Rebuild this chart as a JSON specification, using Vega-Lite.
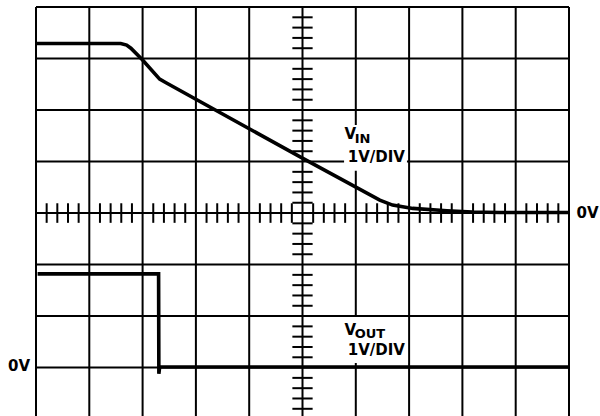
{
  "$schema": "https://vega.github.io/schema/vega-lite/v6.json",
  "width": 533,
  "height": 409,
  "autosize": {"type": "none"},
  "padding": {"left": 36, "top": 7, "right": 31, "bottom": 0},
  "background": "white",
  "config": {"view": {"stroke": null}},
  "datasets": {
    "one": [{}],
    "vgrid": [{"v": 0}, {"v": 1}, {"v": 2}, {"v": 3}, {"v": 4}, {"v": 5}, {"v": 6}, {"v": 7}, {"v": 8}, {"v": 9}, {"v": 10}],
    "hgrid": [{"h": -3}, {"h": -2}, {"h": -1}, {"h": 0}, {"h": 1}, {"h": 2}, {"h": 3}, {"h": 4}],
    "xticks": [
      {"t": 0.2}, {"t": 0.4}, {"t": 0.6}, {"t": 0.8},
      {"t": 1.2}, {"t": 1.4}, {"t": 1.6}, {"t": 1.8},
      {"t": 2.2}, {"t": 2.4}, {"t": 2.6}, {"t": 2.8},
      {"t": 3.2}, {"t": 3.4}, {"t": 3.6}, {"t": 3.8},
      {"t": 4.2}, {"t": 4.4}, {"t": 4.6}, {"t": 4.8},
      {"t": 5.2}, {"t": 5.4}, {"t": 5.6}, {"t": 5.8},
      {"t": 6.2}, {"t": 6.4}, {"t": 6.6}, {"t": 6.8},
      {"t": 7.2}, {"t": 7.4}, {"t": 7.6}, {"t": 7.8},
      {"t": 8.2}, {"t": 8.4}, {"t": 8.6}, {"t": 8.8},
      {"t": 9.2}, {"t": 9.4}, {"t": 9.6}, {"t": 9.8}
    ],
    "yticks": [
      {"t": -3.8}, {"t": -3.6}, {"t": -3.4}, {"t": -3.2},
      {"t": -2.8}, {"t": -2.6}, {"t": -2.4}, {"t": -2.2},
      {"t": -1.8}, {"t": -1.6}, {"t": -1.4}, {"t": -1.2},
      {"t": -0.8}, {"t": -0.6}, {"t": -0.4}, {"t": -0.2},
      {"t": 0.2}, {"t": 0.4}, {"t": 0.6}, {"t": 0.8},
      {"t": 1.2}, {"t": 1.4}, {"t": 1.6}, {"t": 1.8},
      {"t": 2.2}, {"t": 2.4}, {"t": 2.6}, {"t": 2.8},
      {"t": 3.2}, {"t": 3.4}, {"t": 3.6}, {"t": 3.8}
    ],
    "traces": [
      {"s": "VIN", "i": 0, "x": 0, "y": 3.29},
      {"s": "VIN", "i": 1, "x": 1.59, "y": 3.29},
      {"s": "VIN", "i": 2, "x": 1.7, "y": 3.26},
      {"s": "VIN", "i": 3, "x": 1.78, "y": 3.2},
      {"s": "VIN", "i": 4, "x": 2.0, "y": 2.97},
      {"s": "VIN", "i": 5, "x": 2.32, "y": 2.6},
      {"s": "VIN", "i": 6, "x": 2.44, "y": 2.53},
      {"s": "VIN", "i": 7, "x": 4.99, "y": 1.07},
      {"s": "VIN", "i": 8, "x": 6.45, "y": 0.25},
      {"s": "VIN", "i": 9, "x": 6.69, "y": 0.155},
      {"s": "VIN", "i": 10, "x": 7.07, "y": 0.09},
      {"s": "VIN", "i": 11, "x": 7.71, "y": 0.045},
      {"s": "VIN", "i": 12, "x": 8.19, "y": 0.02},
      {"s": "VIN", "i": 13, "x": 8.7, "y": 0.01},
      {"s": "VIN", "i": 14, "x": 10, "y": 0.01},
      {"s": "VOUT", "i": 0, "x": 0.03, "y": -1.18},
      {"s": "VOUT", "i": 1, "x": 2.3, "y": -1.18},
      {"s": "VOUT", "i": 2, "x": 2.305, "y": -3.12},
      {"s": "VOUT", "i": 3, "x": 2.32, "y": -2.99},
      {"s": "VOUT", "i": 4, "x": 10, "y": -2.99}
    ]
  },
  "layer": [
    {
      "data": {"name": "vgrid"},
      "mark": {"type": "rule", "color": "black", "strokeWidth": 2},
      "encoding": {
        "x": {"field": "v", "type": "quantitative", "scale": {"domain": [0, 10], "nice": false, "zero": false}, "axis": null}
      }
    },
    {
      "data": {"name": "hgrid"},
      "mark": {"type": "rule", "color": "black", "strokeWidth": 2},
      "encoding": {
        "y": {"field": "h", "type": "quantitative", "scale": {"domain": [-3.94, 4], "nice": false, "zero": false}, "axis": null}
      }
    },
    {
      "data": {"name": "xticks"},
      "mark": {"type": "rule", "color": "black", "strokeWidth": 2},
      "encoding": {
        "x": {"field": "t", "type": "quantitative", "axis": null},
        "y": {"datum": -0.19, "type": "quantitative", "axis": null},
        "y2": {"datum": 0.19}
      }
    },
    {
      "data": {"name": "yticks"},
      "mark": {"type": "rule", "color": "black", "strokeWidth": 2},
      "encoding": {
        "y": {"field": "t", "type": "quantitative", "axis": null},
        "x": {"datum": 4.81, "type": "quantitative", "axis": null},
        "x2": {"datum": 5.19}
      }
    },
    {
      "data": {"name": "one"},
      "mark": {"type": "rect", "fill": "white", "stroke": null},
      "encoding": {
        "x": {"datum": 5.78, "type": "quantitative", "axis": null},
        "x2": {"datum": 6.96},
        "y": {"datum": 1.71, "type": "quantitative", "axis": null},
        "y2": {"datum": 0.82}
      }
    },
    {
      "data": {"name": "one"},
      "mark": {"type": "rect", "fill": "white", "stroke": null},
      "encoding": {
        "x": {"datum": 5.8, "type": "quantitative", "axis": null},
        "x2": {"datum": 6.98},
        "y": {"datum": -2.02, "type": "quantitative", "axis": null},
        "y2": {"datum": -2.91}
      }
    },
    {
      "data": {"name": "traces"},
      "mark": {"type": "line", "color": "black", "strokeWidth": 3.6, "clip": true},
      "encoding": {
        "x": {"field": "x", "type": "quantitative", "axis": null},
        "y": {"field": "y", "type": "quantitative", "axis": null},
        "detail": {"field": "s"},
        "order": {"field": "i", "type": "quantitative"}
      }
    },
    {
      "data": {"name": "one"},
      "mark": {"type": "text", "text": "V", "font": "DejaVu Sans", "fontWeight": "bold", "fontSize": 15, "align": "left", "baseline": "alphabetic", "color": "black"},
      "encoding": {"x": {"datum": 5.79, "type": "quantitative", "axis": null}, "y": {"datum": 1.437, "type": "quantitative", "axis": null}}
    },
    {
      "data": {"name": "one"},
      "mark": {"type": "text", "text": "IN", "font": "DejaVu Sans", "fontWeight": "bold", "fontSize": 13, "align": "left", "baseline": "alphabetic", "color": "black"},
      "encoding": {"x": {"datum": 5.98, "type": "quantitative", "axis": null}, "y": {"datum": 1.36, "type": "quantitative", "axis": null}}
    },
    {
      "data": {"name": "one"},
      "mark": {"type": "text", "text": "1V/DIV", "font": "DejaVu Sans", "fontWeight": "bold", "fontSize": 15, "align": "left", "baseline": "alphabetic", "color": "black"},
      "encoding": {"x": {"datum": 5.85, "type": "quantitative", "axis": null}, "y": {"datum": 0.99, "type": "quantitative", "axis": null}}
    },
    {
      "data": {"name": "one"},
      "mark": {"type": "text", "text": "V", "font": "DejaVu Sans", "fontWeight": "bold", "fontSize": 15, "align": "left", "baseline": "alphabetic", "color": "black"},
      "encoding": {"x": {"datum": 5.79, "type": "quantitative", "axis": null}, "y": {"datum": -2.37, "type": "quantitative", "axis": null}}
    },
    {
      "data": {"name": "one"},
      "mark": {"type": "text", "text": "OUT", "font": "DejaVu Sans", "fontWeight": "bold", "fontSize": 13, "align": "left", "baseline": "alphabetic", "color": "black"},
      "encoding": {"x": {"datum": 5.98, "type": "quantitative", "axis": null}, "y": {"datum": -2.43, "type": "quantitative", "axis": null}}
    },
    {
      "data": {"name": "one"},
      "mark": {"type": "text", "text": "1V/DIV", "font": "DejaVu Sans", "fontWeight": "bold", "fontSize": 15, "align": "left", "baseline": "alphabetic", "color": "black"},
      "encoding": {"x": {"datum": 5.85, "type": "quantitative", "axis": null}, "y": {"datum": -2.76, "type": "quantitative", "axis": null}}
    },
    {
      "data": {"name": "one"},
      "mark": {"type": "text", "text": "0V", "font": "DejaVu Sans", "fontWeight": "bold", "fontSize": 15, "align": "right", "baseline": "alphabetic", "color": "black"},
      "encoding": {"x": {"datum": -0.11, "type": "quantitative", "axis": null}, "y": {"datum": -3.07, "type": "quantitative", "axis": null}}
    },
    {
      "data": {"name": "one"},
      "mark": {"type": "text", "text": "0V", "font": "DejaVu Sans", "fontWeight": "bold", "fontSize": 15, "align": "left", "baseline": "alphabetic", "color": "black"},
      "encoding": {"x": {"datum": 10.14, "type": "quantitative", "axis": null}, "y": {"datum": -0.1, "type": "quantitative", "axis": null}}
    }
  ]
}
